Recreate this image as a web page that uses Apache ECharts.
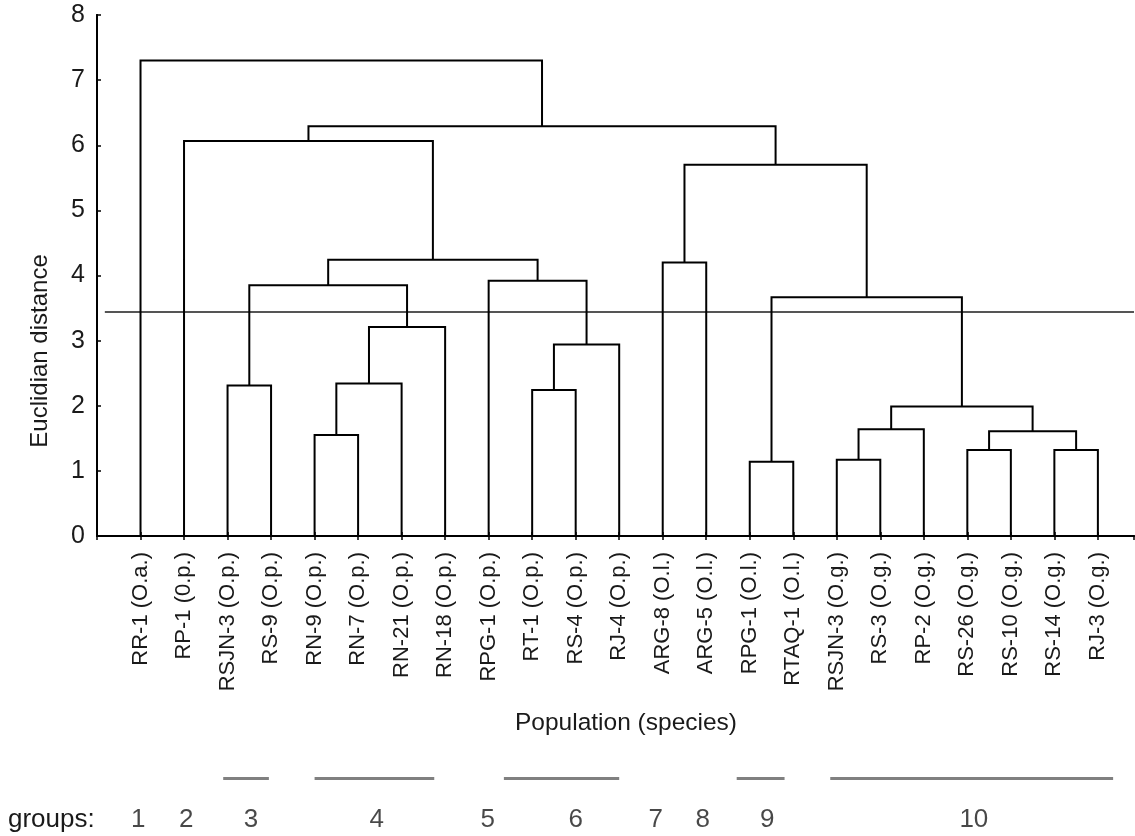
<!DOCTYPE html>
<html><head><meta charset="utf-8">
<script src="https://cdn.jsdelivr.net/npm/echarts@6/dist/echarts.min.js"></script>
<style>html,body{margin:0;padding:0;background:#fff}#c{width:1135px;height:836px}</style>
</head><body><div id="c"></div>
<script>
// ---- data ----
const leafNames = ['RR-1 (O.a.)','RP-1 (0.p.)','RSJN-3 (O.p.)','RS-9 (O.p.)','RN-9 (O.p.)','RN-7 (O.p.)','RN-21 (O.p.)','RN-18 (O.p.)','RPG-1 (O.p.)','RT-1 (O.p.)','RS-4 (O.p.)','RJ-4 (O.p.)','ARG-8 (O.l.)','ARG-5 (O.l.)','RPG-1 (O.l.)','RTAQ-1 (O.l.)','RSJN-3 (O.g.)','RS-3 (O.g.)','RP-2 (O.g.)','RS-26 (O.g.)','RS-10 (O.g.)','RS-14 (O.g.)','RJ-3 (O.g.)'];
// merges: node ids 0..22 are leaves, merge k creates node 23+k
const mergeA = [14,16,19,21,4,25,24,29,9,2,27,31,33,23,32,8,12,37,39,1,42,0];
const mergeB = [15,17,20,22,5,26,18,28,10,3,6,11,7,30,35,34,13,38,36,40,41,43];
const mergeH = [1.14,1.17,1.32,1.32,1.55,1.61,1.64,1.99,2.24,2.31,2.34,2.94,3.21,3.665,3.85,3.92,4.20,4.24,5.70,6.065,6.29,7.30];
const cutHeight = 3.44;
const yTickLabels = ['0','1','2','3','4','5','6','7','8'];
const groupNames = ['1','2','3','4','5','6','7','8','9','10'];
const groupCenters = [0.95,2.05,3.54,6.43,8.98,11.0,12.84,13.92,15.4,20.15];
const groupBarStart = [2.9,5.0,9.35,14.7,16.85];
const groupBarEnd = [3.95,7.75,12.0,15.8,23.35];

// ---- build ----
const FONT = "'Liberation Sans',Arial,sans-serif";
const TXT = '#1a1a1a';
const XMAX = 23.83;
const nx = [], nh = [];
leafNames.forEach((n,i)=>{nx.push(i+1); nh.push(0);});
mergeA.forEach((a,k)=>{
  const b = mergeB[k];
  nx.push((nx[a]+nx[b])/2); nh.push(mergeH[k]);
});
const links = mergeA.map((a,k)=>{
  const b = mergeB[k], h = mergeH[k];
  return {coords:[[nx[a],nh[a]],[nx[a],h],[nx[b],h],[nx[b],nh[b]]]};
});
const bars = groupBarStart.map((s,i)=>({coords:[[s,0.867],[groupBarEnd[i],0.867]]}));
const groupPts = groupNames.map((g,i)=>[groupCenters[i],0.17,g]);

const chart = echarts.init(document.getElementById('c'));
chart.setOption({
  animation:false,
  backgroundColor:'#fff',
  grid:[
    {left:97, right:1, top:15, bottom:300},
    {left:97, right:1, top:770, height:60}
  ],
  xAxis:[
    {gridIndex:0, type:'value', min:0, max:XMAX, interval:1, position:'bottom',
     axisLine:{lineStyle:{color:'#000',width:2}},
     axisTick:{inside:true,length:4,lineStyle:{color:'#000',width:1.5}},
     splitLine:{show:false},
     axisLabel:{rotate:90, margin:16, color:TXT, fontFamily:FONT, fontSize:22,
       showMaxLabel:false,
       formatter:v=>{const i=Math.round(v); return (Math.abs(v-i)<1e-6 && i>=1 && i<=leafNames.length)?leafNames[i-1]:'';}}},
    {gridIndex:0, type:'value', min:0, max:XMAX, interval:1, position:'top',
     axisLine:{lineStyle:{color:'#000',width:2}},
     axisTick:{inside:true,length:4,lineStyle:{color:'#000',width:1.5}},
     splitLine:{show:false}, axisLabel:{show:false}},
    {gridIndex:1, type:'value', min:0, max:XMAX, show:false}
  ],
  yAxis:[
    {gridIndex:0, type:'value', min:0, max:8, interval:1,
     axisLine:{show:true,lineStyle:{color:'#000',width:2}},
     axisTick:{show:true,inside:true,length:4,lineStyle:{color:'#000',width:1.5}},
     splitLine:{show:false},
     axisLabel:{margin:12, color:TXT, fontFamily:FONT, fontSize:25, formatter:v=>yTickLabels[Math.round(v)]}},
    {gridIndex:0, type:'value', min:0, max:8, position:'right',
     axisLine:{show:true,lineStyle:{color:'#000',width:2}},
     axisTick:{show:false}, axisLabel:{show:false}, splitLine:{show:false}},
    {gridIndex:1, type:'value', min:0, max:1, show:false}
  ],
  graphic:[
    {type:'text', x:40, y:351, rotation:Math.PI/2,
     style:{text:'Euclidian distance', font:'24px '+FONT, fill:TXT, textAlign:'center', textVerticalAlign:'middle'}},
    {type:'text', x:626, y:723,
     style:{text:'Population (species)', font:'24.5px '+FONT, fill:TXT, textAlign:'center', textVerticalAlign:'middle'}},
    {type:'text', x:8, y:820,
     style:{text:'groups:', font:'26px '+FONT, fill:TXT, textAlign:'left', textVerticalAlign:'middle'}}
  ],
  series:[
    {type:'lines', coordinateSystem:'cartesian2d', xAxisIndex:0, yAxisIndex:0, polyline:true,
     lineStyle:{color:'#000', width:2, opacity:1}, data:links, z:3},
    {type:'lines', coordinateSystem:'cartesian2d', xAxisIndex:0, yAxisIndex:0,
     lineStyle:{color:'#555', width:2, opacity:1},
     data:[{coords:[[0.18,cutHeight],[XMAX,cutHeight]]}], z:2},
    {type:'lines', coordinateSystem:'cartesian2d', xAxisIndex:2, yAxisIndex:2,
     lineStyle:{color:'#808080', width:3, opacity:1}, data:bars},
    {type:'scatter', xAxisIndex:2, yAxisIndex:2, symbolSize:1,
     itemStyle:{color:'rgba(0,0,0,0)'}, data:groupPts,
     label:{show:true, position:'inside', color:TXT, fontFamily:FONT, fontSize:26, formatter:p=>p.value[2]}}
  ]
});
</script></body></html>
